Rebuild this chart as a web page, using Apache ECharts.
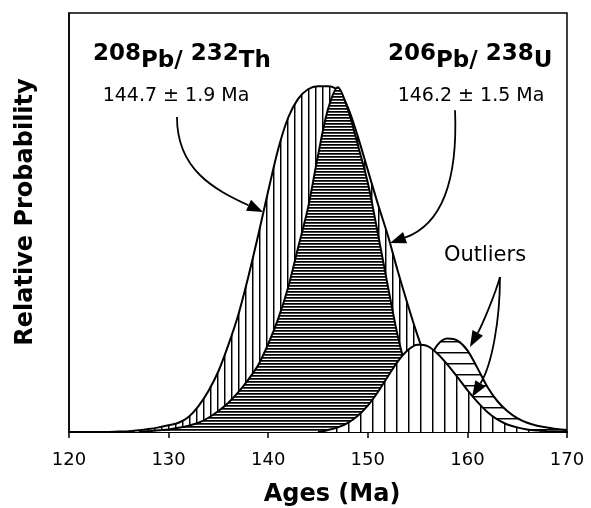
<!DOCTYPE html>
<html>
<head>
<meta charset="utf-8">
<script src="https://cdn.jsdelivr.net/npm/echarts@6/dist/echarts.min.js"></script>
<style>
  html, body { margin: 0; padding: 0; background: #fff; }
  #chart { width: 591px; height: 508px; }
</style>
</head>
<body>
<div id="chart"></div>
<script>
// 208Pb/232Th main probability curve
const thAges = [124, 125, 126, 127, 128, 129, 130, 131, 132, 133, 134, 135, 136, 137, 138, 139, 140, 141, 142, 143, 144,
  145, 146, 147, 148, 149, 150, 151, 152, 153, 154, 155, 156, 157, 158, 159, 160, 161, 162, 163, 164, 165]
const thMain = [0, 0.1, 0.2, 0.4, 0.7, 1.1, 1.6, 2.2, 3.6, 6.2, 9.8, 14.5, 20.8, 28, 37, 47, 57.5, 67.5, 75, 79.5, 81.8,
  82.5, 82.5, 81.5, 77.5, 70.5, 62.5, 54.5, 47, 38.5, 30.5, 23, 16.5, 11.5, 7.5, 4.6, 2.8, 1.6, 0.9, 0.5, 0.2, 0]

// 206Pb/238U main probability curve
const uAges = [127, 128, 129, 130, 131, 132, 133, 134, 135, 136, 137, 138, 139, 140, 141, 142, 143, 144, 145, 146, 147,
  148, 149, 150, 151, 152, 153, 154, 155, 156, 157, 158, 159, 160]
const uMain = [0, 0.2, 0.4, 0.6, 1.0, 1.5, 2.2, 3.4, 5, 7, 9.5, 12.5, 16, 21, 27, 34.5, 44, 53.5, 66, 77, 82.3,
  77, 68.5, 59.5, 47.5, 35, 23, 14, 8, 4.5, 2.2, 1, 0.4, 0]

// outliers
const thOutAges = [145, 146, 147, 148, 149, 150, 151, 152, 153, 154, 155, 156, 157, 158, 159, 160, 161, 162, 163, 164,
  165, 166, 167, 168, 169, 170]
const thOut = [0, 0.5, 1.1, 2.2, 3.9, 6.3, 9.5, 13.2, 16.8, 19.5, 20.8, 20.5, 18.7, 16.1, 13.1, 10, 7.2, 4.8, 3, 1.8,
  1.1, 0.6, 0.35, 0.2, 0.1, 0.05]
const uOutAges = [150, 151, 152, 153, 154, 155, 156, 157, 158, 159, 160, 161, 162, 163, 164, 165, 166, 167, 168, 169, 170]
const uOut = [0, 0.3, 1, 2.5, 5.5, 10.5, 16.5, 20.8, 22.3, 21.8, 19.5, 15.3, 10.8, 7.4, 5, 3.3, 2.2, 1.5, 1.1, 0.7, 0.5]

const xTicks = [120, 130, 140, 150, 160, 170]

// annotation arrows in data units: start, control 1, control 2, tip
const arrowTh = [[130.84, 75.2], [130.84, 62.5], [134.66, 57.8], [139.48, 52.5]]
const arrowU = [[158.76, 76.8], [159.06, 58.95], [157.25, 49.4], [152.23, 45.1]]
const arrowOutA = [[163.27, 37.0], [162.77, 32.7], [161.47, 25.5], [160.26, 20.3]]
const arrowOutB = [[163.27, 37.0], [163.27, 26.7], [162.47, 16.0], [160.46, 8.35]]

// isotope titles: [text, raised]
const thTitle = [['208', true], ['Pb/ ', false], ['232', true], ['Th', false]]
const uTitle = [['206', true], ['Pb/ ', false], ['238', true], ['U', false]]

const pairs = (xs, ys) => xs.map((x, i) => [x, ys[i]])

// hatching tiles
function hatch(w, h, draw) {
  const c = document.createElement('canvas')
  c.width = w
  c.height = h
  const ctx = c.getContext('2d')
  ctx.fillStyle = '#fff'
  ctx.fillRect(0, 0, w, h)
  draw(ctx)
  return c
}
const vertDense = hatch(7, 2, (ctx) => { ctx.fillStyle = '#000'; ctx.fillRect(0, 0, 1, 2); ctx.fillStyle = '#888'; ctx.fillRect(1, 0, 1, 2) })
const vertWide = hatch(12, 2, (ctx) => { ctx.fillStyle = '#000'; ctx.fillRect(0, 0, 1, 2); ctx.fillStyle = '#888'; ctx.fillRect(1, 0, 1, 2) })
const horizDark = hatch(2, 3, (ctx) => { ctx.fillStyle = '#000'; ctx.fillRect(0, 0, 2, 1); ctx.fillStyle = '#444'; ctx.fillRect(0, 1, 2, 1) })
const horizWide = hatch(2, 11, (ctx) => { ctx.fillStyle = '#000'; ctx.fillRect(0, 0, 2, 1); ctx.fillStyle = '#888'; ctx.fillRect(0, 1, 2, 1) })

const curve = (name, data, tile, z) => ({
  name: name,
  type: 'line',
  z: z,
  data: data,
  smooth: 0.3,
  symbol: 'none',
  lineStyle: { color: '#000', width: 2 },
  areaStyle: { color: { image: tile, repeat: 'repeat' }, opacity: 1 },
})

const chart = echarts.init(document.getElementById('chart'))

chart.setOption({
  animation: false,
  textStyle: { fontFamily: 'DejaVu Sans', color: '#000' },
  grid: { left: 69, right: 24, top: 13, bottom: 76, show: true, borderColor: '#000', borderWidth: 1.5 },
  xAxis: {
    type: 'value',
    min: 120,
    max: 170,
    interval: 10,
    axisLine: { onZero: false, lineStyle: { color: '#000', width: 2 } },
    axisTick: { length: 6, lineStyle: { color: '#000', width: 1.5 } },
    axisLabel: { fontSize: 18, color: '#000', margin: 19, formatter: (v) => (xTicks.includes(v) ? String(v) : '') },
    splitLine: { show: false },
  },
  yAxis: {
    type: 'value',
    min: 0,
    max: 100,
    axisLine: { show: true, lineStyle: { color: '#000', width: 1.5 } },
    axisTick: { show: false },
    axisLabel: { show: false },
    splitLine: { show: false },
  },
  series: [
    curve('208Pb/232Th', pairs(thAges, thMain), vertDense, 2),
    curve('206Pb/238U', pairs(uAges, uMain), horizDark, 3),
    curve('206Pb/238U outliers', pairs(uOutAges, uOut), horizWide, 4),
    curve('208Pb/232Th outliers', pairs(thOutAges, thOut), vertWide, 5),
  ],
})

// curved arrows with filled heads, placed through the axes
function arrow(pts) {
  const p = pts.map((d) => chart.convertToPixel({ gridIndex: 0 }, d))
  const tip = p[3]
  const dx = tip[0] - p[2][0]
  const dy = tip[1] - p[2][1]
  const len = Math.hypot(dx, dy)
  const ux = dx / len
  const uy = dy / len
  const bx = tip[0] - ux * 16
  const by = tip[1] - uy * 16
  return [
    {
      type: 'bezierCurve',
      z: 20,
      shape: { x1: p[0][0], y1: p[0][1], cpx1: p[1][0], cpy1: p[1][1], cpx2: p[2][0], cpy2: p[2][1], x2: bx, y2: by },
      style: { stroke: '#000', lineWidth: 1.8, fill: null },
    },
    {
      type: 'polygon',
      z: 21,
      shape: { points: [tip, [bx - uy * 6, by + ux * 6], [bx + uy * 6, by - ux * 6]] },
      style: { fill: '#000' },
    },
  ]
}

// title with raised mass numbers, pieces laid out left to right
const measure = document.createElement('canvas').getContext('2d')
measure.font = 'bold 23px "DejaVu Sans"'
function isoTitle(x0, parts) {
  let x = x0
  return parts.map(([t, up]) => {
    const el = {
      type: 'text', z: 20, x: x, y: up ? 54.5 : 61.5,
      style: { text: t, fontSize: 23, fontWeight: 'bold', fontFamily: 'DejaVu Sans', fill: '#000', align: 'left', verticalAlign: 'middle' },
    }
    x += measure.measureText(t).width
    return el
  })
}

chart.setOption({
  graphic: [
    ...isoTitle(93, thTitle),
    ...isoTitle(388, uTitle),
    { type: 'text', z: 20, x: 176, y: 96, style: { text: '144.7 ± 1.9 Ma', fontSize: 19, fontFamily: 'DejaVu Sans', fill: '#000', align: 'center', verticalAlign: 'middle' } },
    { type: 'text', z: 20, x: 471, y: 96, style: { text: '146.2 ± 1.5 Ma', fontSize: 19, fontFamily: 'DejaVu Sans', fill: '#000', align: 'center', verticalAlign: 'middle' } },
    { type: 'text', z: 20, x: 485, y: 256, style: { text: 'Outliers', fontSize: 21, fontFamily: 'DejaVu Sans', fill: '#000', align: 'center', verticalAlign: 'middle' } },
    { type: 'text', z: 20, x: 332, y: 495, style: { text: 'Ages (Ma)', fontSize: 24, fontWeight: 'bold', fontFamily: 'DejaVu Sans', fill: '#000', align: 'center', verticalAlign: 'middle' } },
    { type: 'text', z: 20, x: 26, y: 212, rotation: Math.PI / 2, style: { text: 'Relative Probability', fontSize: 24, fontWeight: 'bold', fontFamily: 'DejaVu Sans', fill: '#000', align: 'center', verticalAlign: 'middle' } },
    ...arrow(arrowTh),
    ...arrow(arrowU),
    ...arrow(arrowOutA),
    ...arrow(arrowOutB),
  ],
})
</script>
</body>
</html>
